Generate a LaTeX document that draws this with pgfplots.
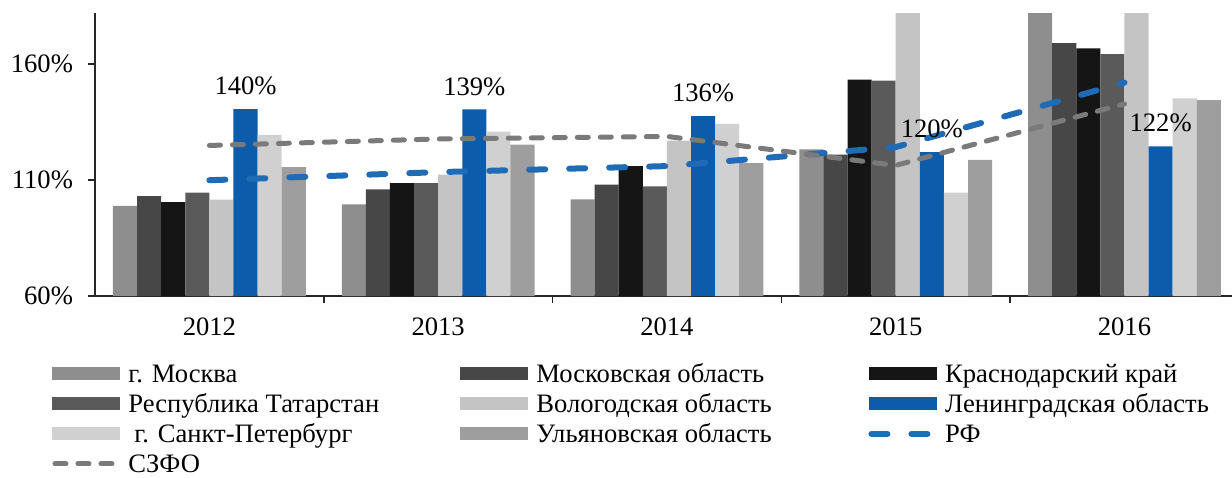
\documentclass[border=0pt]{standalone}
\usepackage{fontspec}
\setmainfont{Liberation Serif}
\usepackage{pgfplots}
\pgfplotsset{compat=1.18}
\definecolor{cMsk}{HTML}{8E8E8E}
\definecolor{cMO}{HTML}{474747}
\definecolor{cKrd}{HTML}{151515}
\definecolor{cTat}{HTML}{5A5A5A}
\definecolor{cVol}{HTML}{C4C4C4}
\definecolor{cLen}{HTML}{0D5BAB}
\definecolor{cSpb}{HTML}{D0D0D0}
\definecolor{cUl}{HTML}{9E9E9E}
\definecolor{cSZ}{HTML}{7A7A7A}
\definecolor{cRF}{HTML}{1F6BB5}
\newcommand{\lt}[1]{\makebox[162pt][l]{#1}}
\newcommand{\fs}{\fontsize{13.3}{16}\selectfont}
\pgfplotsset{
  mybar/.style={fill=#1, draw=none,
    legend image code/.code={\fill[fill=#1] (0pt,-3.25pt) rectangle (34pt,3.25pt);}},
  myline/.style={sharp plot, no markers,
    legend image code/.code={\draw[##1] (1.3pt,0pt) -- (32.7pt,0pt);}},
}
\begin{document}
\begin{tikzpicture}[font=\fs]
\begin{axis}[
  at={(0,0)}, anchor=south west,
  width=568.5pt, height=141.5pt, scale only axis,
  xmin=-0.5, xmax=4.47, ymin=60, ymax=182,
  ybar=0pt, bar width=12.05pt,
  axis x line*=bottom, axis y line*=left,
  axis line style={-, black!85, line width=0.8pt},
  xtick={0.5,1.5,2.5,3.5}, xticklabels={},
  extra x ticks={0,1,2,3,4},
  extra x tick labels={2012,2013,2014,2015,2016},
  extra x tick style={tick style={draw=none}, tick label style={yshift=-4pt}},
  ytick={60,110,160}, yticklabels={60\%,110\%,160\%},
  tick align=outside, major tick length=3.5pt,
  tick style={black!85, line width=0.8pt},
  y tick label style={xshift=-4pt},
  tick label style={font=\fs},
  /pgf/number format/assume math mode=true,
  legend columns=3,
  legend cell align=left,
  legend style={draw=none, fill=none, at={(0,0)}, anchor=north west,
    xshift=-21.5pt, yshift=-33.5pt, inner sep=0pt, column sep=0pt, row sep=4.5pt,
    nodes={inner xsep=4pt, inner ysep=0pt, text height=9.5pt, text depth=1pt},
    font=\fs},
]
\addplot[mybar=cMsk] coordinates {(0,98.8) (1,99.5) (2,101.7) (3,123.2) (4,190)};
\addlegendentry{\lt{г. Москва}}
\addplot[mybar=cMO] coordinates {(0,103.1) (1,106.0) (2,108.0) (3,121.0) (4,169.0)};
\addlegendentry{\lt{Московская область}}
\addplot[mybar=cKrd] coordinates {(0,100.5) (1,108.7) (2,116.0) (3,153.3) (4,166.7)};
\addlegendentry{\lt{Краснодарский край}}
\addplot[mybar=cTat] coordinates {(0,104.6) (1,108.7) (2,107.3) (3,152.8) (4,164.3)};
\addlegendentry{\lt{Республика Татарстан}}
\addplot[mybar=cVol] coordinates {(0,101.5) (1,112.3) (2,127.0) (3,190) (4,190)};
\addlegendentry{\lt{Вологодская область}}
\addplot[mybar=cLen, nodes near coords, point meta=explicit symbolic,
  nodes near coords style={font=\fs, text=black, yshift=3.5pt}]
  coordinates {(0,140.6) [140\%] (1,140.4) [139\%] (2,137.5) [136\%] (3,122.0) [120\%] (4,124.5) [122\%]};
\addlegendentry{\lt{Ленинградская область}}
\addplot[mybar=cSpb] coordinates {(0,129.5) (1,130.9) (2,134.2) (3,104.6) (4,145.2)};
\addlegendentry{\lt{\hspace{3pt}г. Санкт-Петербург}}
\addplot[mybar=cUl] coordinates {(0,115.6) (1,125.3) (2,117.3) (3,118.7) (4,144.4)};
\addlegendentry{\lt{Ульяновская область}}
\addplot[myline, color=cRF, line width=3pt, line cap=round, dash pattern=on 8pt off 12pt]
  coordinates {(0,109.9) (1,113.4) (2,116.0) (3,124.2) (4,152.0)};
\addlegendentry{\lt{РФ}}
\addplot[myline, color=cSZ, line width=2.5pt, line cap=round, dash pattern=on 5.5pt off 6pt]
  coordinates {(0,124.9) (1,127.7) (2,128.8) (3,116.3) (4,142.8)};
\addlegendentry{\lt{СЗФО}}
\end{axis}
\pgfresetboundingbox
\path (-47.5pt,-90.5pt) rectangle (568.5pt,148pt);
\end{tikzpicture}
\end{document}
